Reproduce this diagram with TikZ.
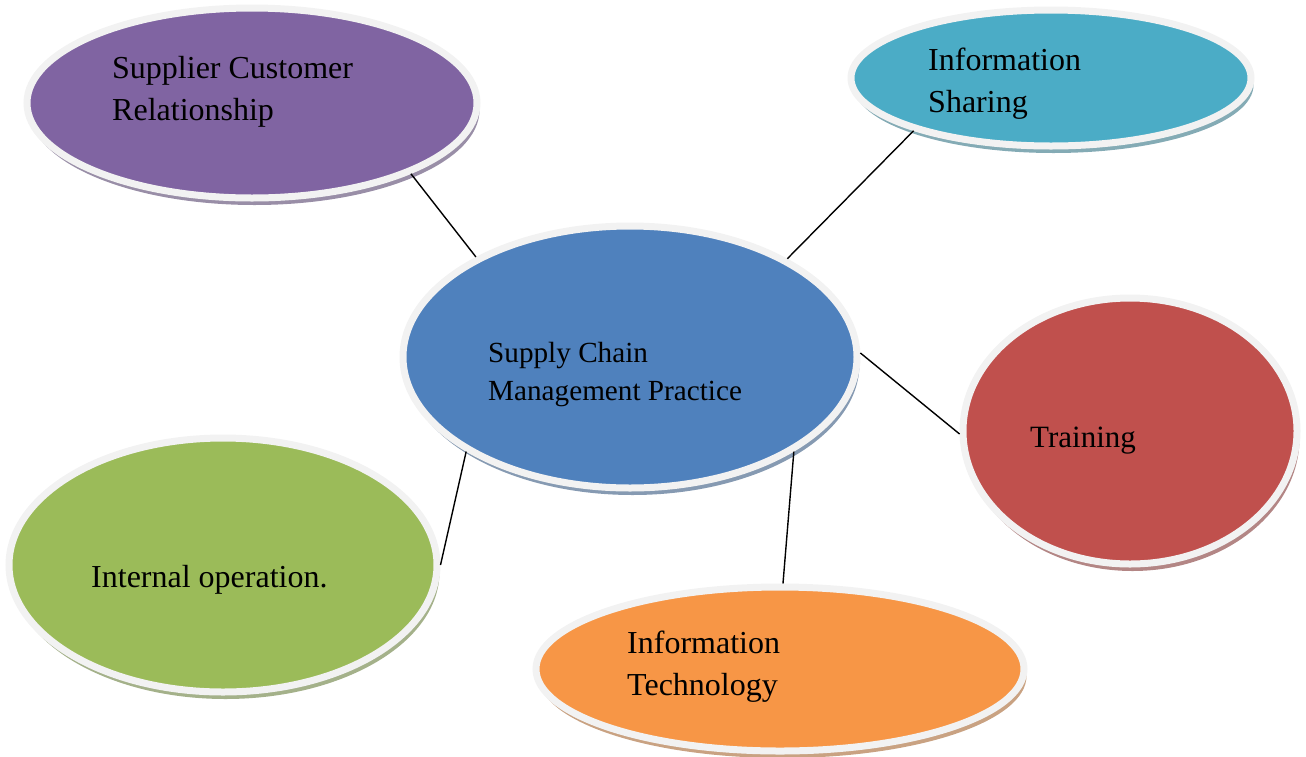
\documentclass[tikz,border=0pt]{standalone}
\usepackage{fontspec}
\setmainfont{Liberation Serif}
\usetikzlibrary{shapes.geometric,shadows}

\definecolor{cPurple}{HTML}{8064A2}
\definecolor{cTeal}{HTML}{4BACC6}
\definecolor{cBlue}{HTML}{4F81BD}
\definecolor{cRed}{HTML}{C0504D}
\definecolor{cGreen}{HTML}{9BBB59}
\definecolor{cOrange}{HTML}{F79646}
\definecolor{rim}{HTML}{F2F2F2}

\tikzset{
  bubble/.style 2 args={ellipse, draw=rim, line width=7pt, fill=#1,
    minimum width=#2, inner sep=0pt,
    drop shadow={shadow xshift=2.5pt, shadow yshift=-7pt, opacity=1,
      fill=#1!50!gray!80!white, draw=none}},
  lbl/.style={anchor=base west, align=left, inner sep=0pt, text=black,
    font=\fontsize{32}{42}\selectfont},
  link/.style={draw=black, line width=1.4pt},
}

\begin{document}
\begin{tikzpicture}[x=1pt, y=-1pt]
  \useasboundingbox (0,0) rectangle (1306,756);

  % coloured ellipses (outer rim = fill radius + 7)
  \node[bubble={cPurple}{450pt}, minimum height=190pt] (scr) at (252,103) {};
  \node[bubble={cTeal}{400pt},   minimum height=136pt] (is)  at (1051,78) {};
  \node[bubble={cBlue}{454pt},   minimum height=262pt] (scm) at (630,357) {};
  \node[bubble={cRed}{334pt},    minimum height=266pt] (tr)  at (1130,431) {};
  \node[bubble={cGreen}{428pt},  minimum height=254pt] (io)  at (223,565) {};
  \node[bubble={cOrange}{488pt}, minimum height=164pt] (it)  at (780,669) {};

  % labels (base anchor sits on the last line)
  \node[lbl] (tscr) at (112,120) {Supplier Customer\\Relationship};
  \node[lbl] (tis)  at (928,112) {Information\\Sharing};
  \node[lbl, font=\fontsize{29.2}{38}\selectfont] (tscm) at (488,400) {Supply Chain\\Management Practice};
  \node[lbl, font=\fontsize{31}{42}\selectfont] (ttr) at (1030,447) {Training};
  \node[lbl] (tio)  at (91,587) {Internal operation.};
  \node[lbl] (tit)  at (627,695) {Information\\Technology};

  % connectors from the hub to each practice
  \draw[link] (scr.-24.5) -- (scm.147.7);
  \draw[link] (is.201.3)  -- (scm.32.4);
  \draw[link] (scm.1)     -- (tr.181);
  \draw[link] (scm.210.5) -- (io.0);
  \draw[link] (scm.-30.2) -- (it.88);
\end{tikzpicture}
\end{document}
